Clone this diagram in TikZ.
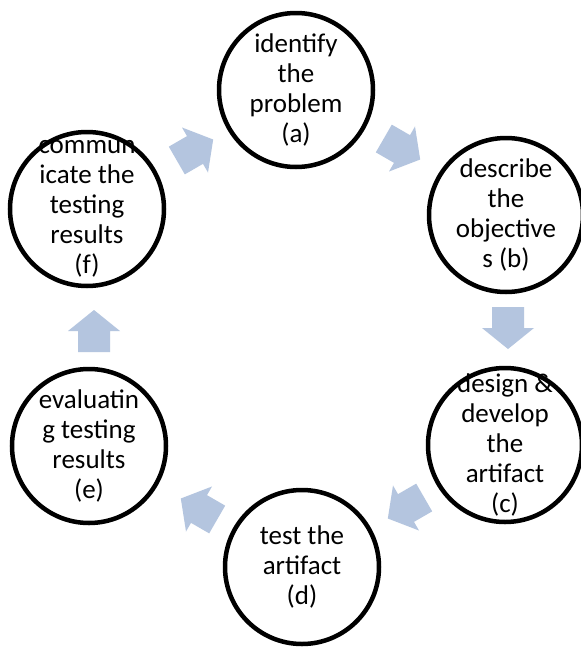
\documentclass[tikz,border=0pt]{standalone}
\usepackage{fontspec}
\setmainfont{Carlito}
\definecolor{arrowblue}{RGB}{180,197,223}
\begin{document}
\begin{tikzpicture}[x=1pt,y=-1pt,
  stage/.style={circle, draw=black, line width=4.5pt, fill=white, minimum size=154pt, inner sep=0pt},
  stagetext/.style={align=center, font=\fontsize{27}{30}\selectfont, inner sep=0pt, text=black},
  cyclearrow/.pic={\fill[arrowblue] (-21,-16) -- (0,-16) -- (0,-26) -- (21,0) -- (0,26) -- (0,16) -- (-21,16) -- cycle;}]
\useasboundingbox (0,0) rectangle (581,648);
\clip (0,0) rectangle (581,648);
\fill[white] (0,0) rectangle (581,648);
% stages
\node[stage] (a) at (296,90) {};
\node[stage] (b) at (506,215) {};
\node[stage] (c) at (505,445) {};
\node[stage] (d) at (302,567) {};
\node[stage] (e) at (89,446) {};
\node[stage] (f) at (87,209) {};
% labels
\node[stagetext] (ta) at (a) {identify\\the\\problem\\(a)};
\node[stagetext] (tb) at (b) {describe\\the\\objective\\s (b)};
\node[stagetext] (tc) at (c) {design \&\\develop\\the\\artifact\\(c)};
\node[stagetext] (td) at (d) {test the\\artifact\\(d)};
\node[stagetext] (te) at (e) {evaluatin\\g testing\\results\\(e)};
\node[stagetext] (tf) at (f) {commun\\icate the\\testing\\results\\(f)};
% block arrows
\pic[rotate=-30] at (402,149) {cyclearrow};
\pic[rotate=-90] at (508,328) {cyclearrow};
\pic[rotate=-150] at (406,508) {cyclearrow};
\pic[rotate=150] at (199,509) {cyclearrow};
\pic[rotate=90] at (94,331) {cyclearrow};
\pic[rotate=30] at (195,150) {cyclearrow};
\end{tikzpicture}
\end{document}
